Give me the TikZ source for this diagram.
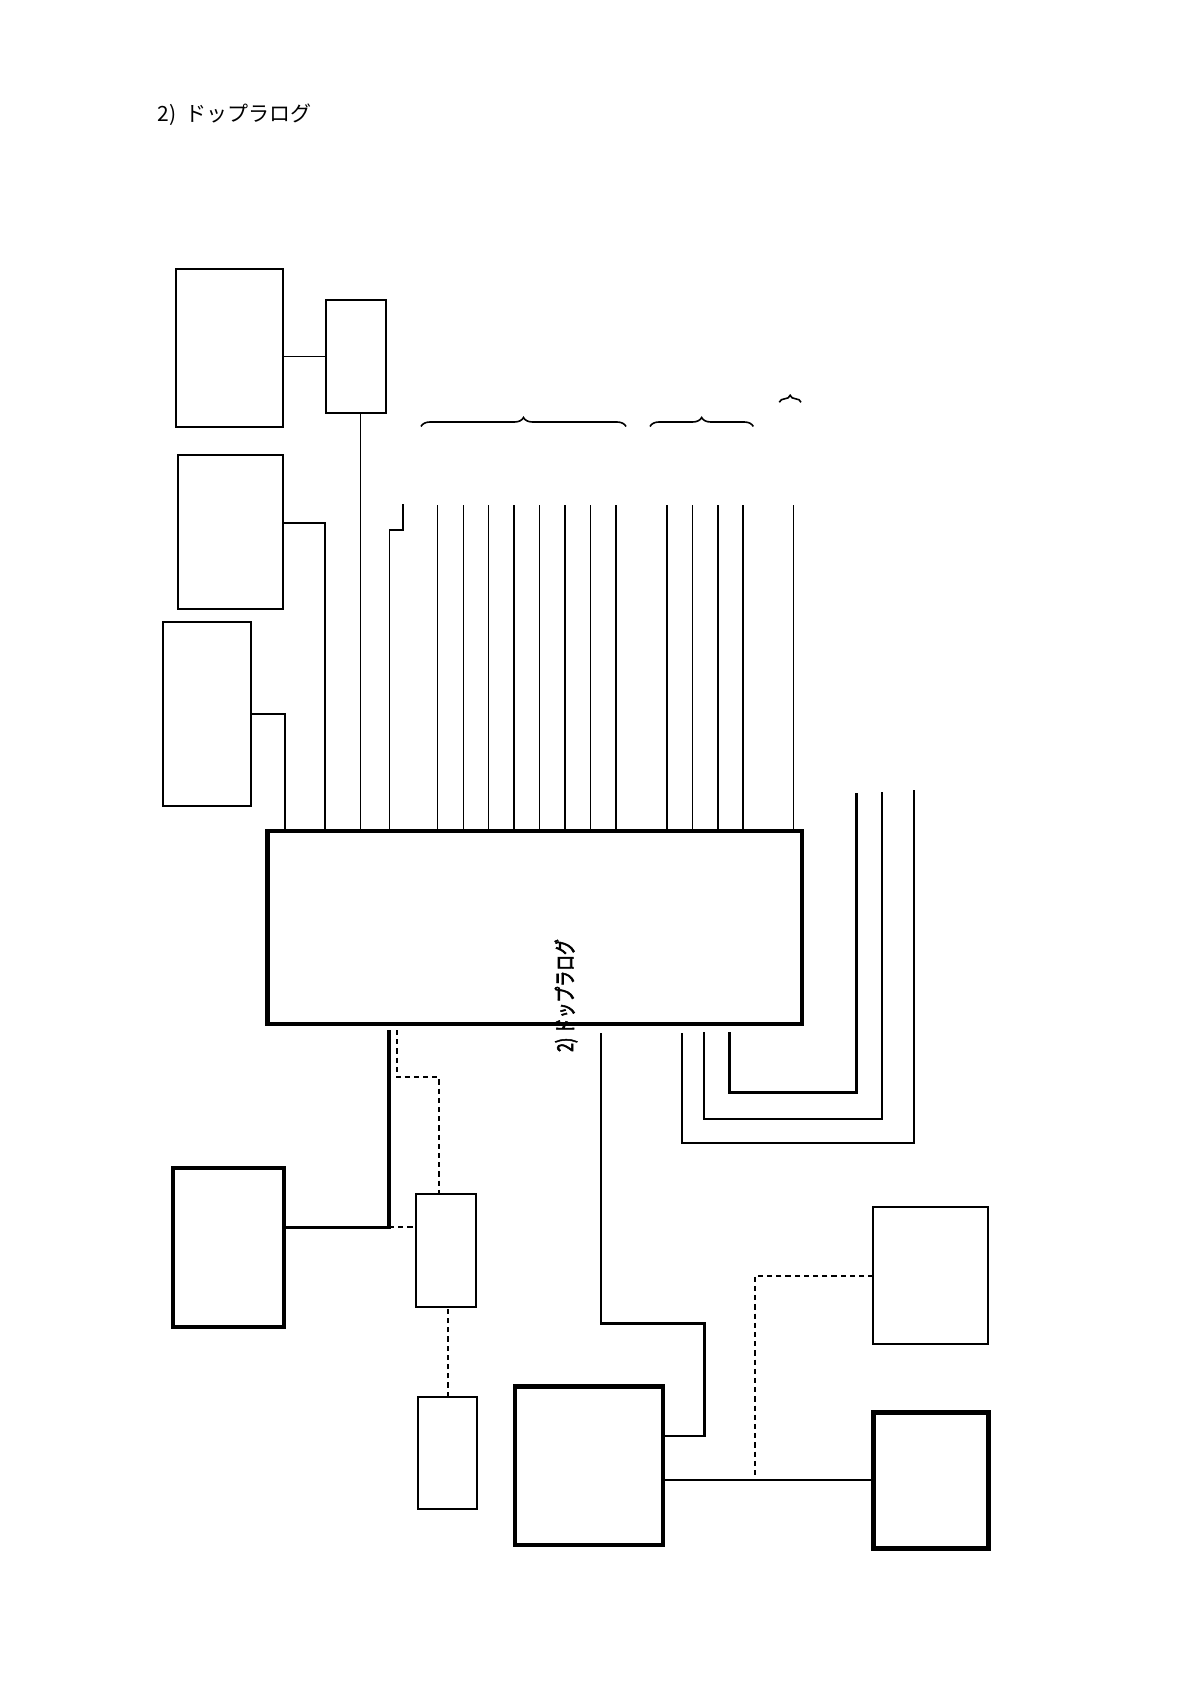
\documentclass[tikz,border=0pt]{standalone}
\usepackage{fontspec}
\newfontfamily\cjk{Noto Sans CJK JP}
\newfontfamily\cjkbold[AutoFakeBold=3]{Noto Sans CJK JP}
\usetikzlibrary{decorations.pathreplacing}
\tikzset{
  box/.style={draw, line width=1pt, inner sep=0pt, outer sep=0pt},
  heavybox/.style={box, line width=2.2pt},
  thinln/.style={line width=0.55pt},
  medln/.style={line width=0.9pt},
  heavyln/.style={line width=1.6pt},
  dashln/.style={line width=1pt, dash pattern=on 2.6pt off 2pt},
  bracepath/.style={decorate, decoration={brace, amplitude=4.5pt}, line width=0.8pt},
}
\begin{document}
\begin{tikzpicture}[x=0.5pt, y=-0.5pt]
\useasboundingbox (0,0) rectangle (1191,1684);

% boxes
\node[box, minimum width=53.8pt, minimum height=78.7pt] (A) at (229.5,348) {};
\node[box, minimum width=30pt, minimum height=56.3pt] (B) at (356.3,356.7) {};
\node[box, minimum width=52.8pt, minimum height=77pt] (C) at (230.5,531.7) {};
\node[box, minimum width=44.3pt, minimum height=92.2pt] (D) at (207,714.2) {};
\node[heavybox, minimum width=267.2pt, minimum height=96.5pt] (M) at (534.5,927.5) {};
\node[box, minimum width=29.9pt, minimum height=56.2pt] (E) at (446.2,1250.5) {};
\node[heavybox, line width=2pt, minimum width=55.3pt, minimum height=79.2pt] (F) at (228.7,1247.5) {};
\node[box, minimum width=29.8pt, minimum height=56.3pt] (G) at (447.5,1453) {};
\node[heavybox, minimum width=73.9pt, minimum height=79.2pt] (H) at (588.8,1465.8) {};
\node[heavybox, minimum width=57.5pt, minimum height=68pt] (J) at (930.8,1480.3) {};
\node[box, minimum width=57.5pt, minimum height=68.2pt] (K) at (930.8,1275.5) {};

% texts
\node[anchor=west, inner sep=0pt, font=\cjk\fontsize{10.5pt}{12pt}\selectfont] (title) at (157,115) {2)\ \ ドップラログ};
\node[rotate=90, inner sep=0pt, font=\cjkbold\bfseries\fontsize{11pt}{12pt}\selectfont] (lbl) at (566,995.5) {\scalebox{0.72}[1]{2) ドップラログ}};

% top-left connectors
\draw[thinln] (B.west) -- (B.west -| A.east);
\draw[thinln] ([xshift=2pt]B.south) -- ([xshift=2pt]B.south |- M.north);
\coordinate (cC) at (325,0);
\draw[medln] ([yshift=4.2pt]C.east) -| (cC |- M.north);
\coordinate (cD) at (285,0);
\draw[medln] (D.east) -| (cD |- M.north);
\coordinate (s0) at (403.3,504);
\coordinate (s1) at (389.5,530);
\draw[medln] (s0) |- (s1) -- (s1 |- M.north);

% top lines
\foreach \x/\w [count=\i] in {437.5/thinln, 463.3/thinln, 488.5/thinln, 514/medln, 539.5/thinln, 565/medln, 590.7/thinln, 616/medln, 666.7/medln, 692.5/thinln, 718/medln, 742.7/medln, 793.3/thinln}{
  \coordinate (top\i) at (\x,505);
  \draw[\w] (top\i) -- (top\i |- M.north);
}

% braces
\coordinate (b1l) at (421,426.5); \coordinate (b1r) at (626,426.5);
\coordinate (b2l) at (650,426.5); \coordinate (b2r) at (753.3,426.5);
\coordinate (b3l) at (779.3,402.3); \coordinate (b3r) at (801,402.3);
\draw[bracepath] (b1l) -- (b1r);
\draw[bracepath] (b2l) -- (b2r);
\draw[bracepath, decoration={brace, amplitude=3.5pt}] (b3l) -- (b3r);

% right loops
\coordinate (r1) at (856.3,793); \coordinate (k1) at (856.3,1092.3); \coordinate (l1) at (729.3,1032);
\coordinate (r2) at (882.3,792); \coordinate (k2) at (882.3,1119); \coordinate (l2) at (703.7,1032);
\coordinate (r3) at (914,790); \coordinate (k3) at (914,1142.7); \coordinate (l3) at (682,1033);
\draw[heavyln] (l1) |- (k1) -- (r1);
\draw[medln] (l2) |- (k2) -- (r2);
\draw[line width=1pt] (l3) |- (k3) -- (r3);

% bottom left
\coordinate (v1) at (389,1030); \coordinate (fc) at (389,1227.3);
\draw[heavyln] (v1) -- (fc) -- (fc -| F.east);
\coordinate (d1) at (396.7,1030); \coordinate (d2) at (439.3,1077.3);
\draw[dashln] (d1) |- (d2) -- (d2 |- E.north);
\draw[dashln] (fc) -- (fc -| E.west);
\draw[dashln] (G.north) -- (G.north |- E.south);

% bottom right
\coordinate (w1) at (601,1033); \coordinate (w2) at (704.3,1323.3);
\draw[line width=1.3pt] (w1) |- (w2) -- ([yshift=14.9pt]H.east -| w2) -- ([yshift=14.9pt]H.east);
\draw[medln] (H.east |- J.west) -- (J.west);
\coordinate (kd) at (755,1480.7);
\draw[dashln] (K.west) -| (kd);
\end{tikzpicture}
\end{document}
